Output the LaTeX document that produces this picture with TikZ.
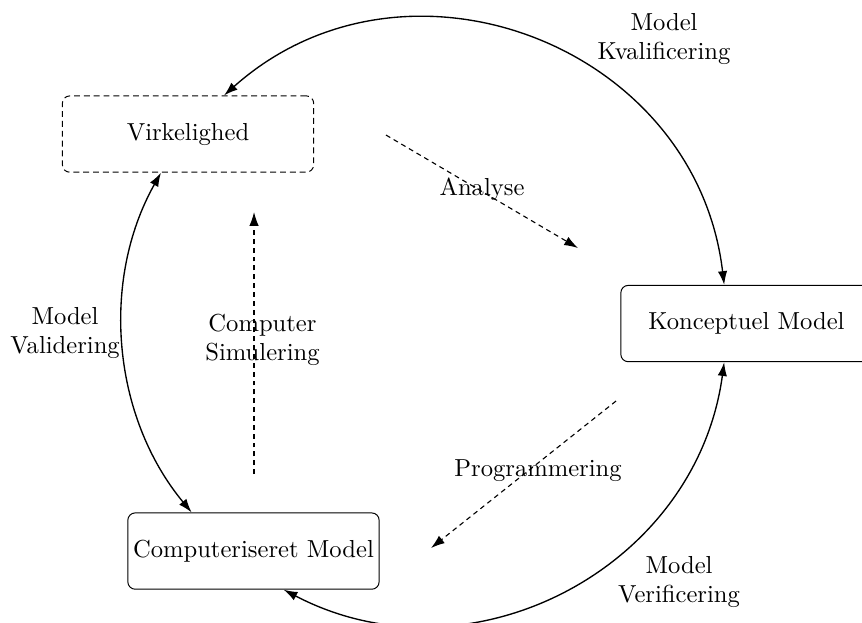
\documentclass[tikz,border=0pt]{standalone}
\usepackage{tikz}
\usetikzlibrary{arrows.meta}
\tikzset{
  modelbox/.style={draw, rounded corners=3pt, minimum width=3.59cm,
                   minimum height=1.09cm, inner sep=1pt, align=center},
  realbox/.style={modelbox, dash pattern=on 2.4pt off 1.6pt},
  cyc/.style={<->, >={Latex[length=5.6pt,width=3.8pt]}, line width=0.55pt},
  work/.style={->, >={Latex[length=5.6pt,width=3.8pt]}, line width=0.45pt,
               dash pattern=on 2pt off 1.6pt},
  lbl/.style={align=center, inner sep=0pt}
}

\begin{document}
\begin{tikzpicture}
  \useasboundingbox (0,0) rectangle (12.314,8.886);

  %% the three models
  \node[realbox]  (virk) at (2.686,6.971)  {Virkelighed};
  \node[modelbox] (konc) at (10.664,4.264) {Konceptuel Model};
  \node[modelbox] (comp) at (3.621,1.014)  {Computeriseret Model};

  %% cycle round the outside
  \draw[cyc] (konc.120) to[bend right=62.5, looseness=1.16] (virk.47);
  \draw[cyc] (virk.235) to[bend right=34.5, looseness=0.93] (comp.148.6);
  \draw[cyc] (comp.308) to[bend right=55, looseness=1.08] (konc.240);

  \node[lbl] (kval)  at (9.486,8.329) {Model\\Kvalificering};
  \node[lbl] (valid) at (0.929,4.129) {Model\\Validering};
  \node[lbl] (verif) at (9.700,0.571) {Model\\Verificering};

  %% work steps inside
  \coordinate (ana0) at (5.514,6.957);
  \coordinate (ana1) at (8.257,5.343);
  \coordinate (prg0) at (8.800,3.157);
  \coordinate (prg1) at (6.157,1.057);
  \coordinate (sim0) at (3.629,2.114);
  \coordinate (sim1) at (3.629,5.857);

  \draw[work] (ana0) -- (ana1);
  \draw[work] (prg0) -- (prg1);
  \draw[work] (sim0) -- (sim1);

  \node[lbl] (analyse) at (6.886,6.186) {Analyse};
  \node[lbl] (prog)    at (7.686,2.157) {Programmering};
  \node[lbl] (simul)   at (3.750,4.029) {Computer\\Simulering};

\end{tikzpicture}
\end{document}
